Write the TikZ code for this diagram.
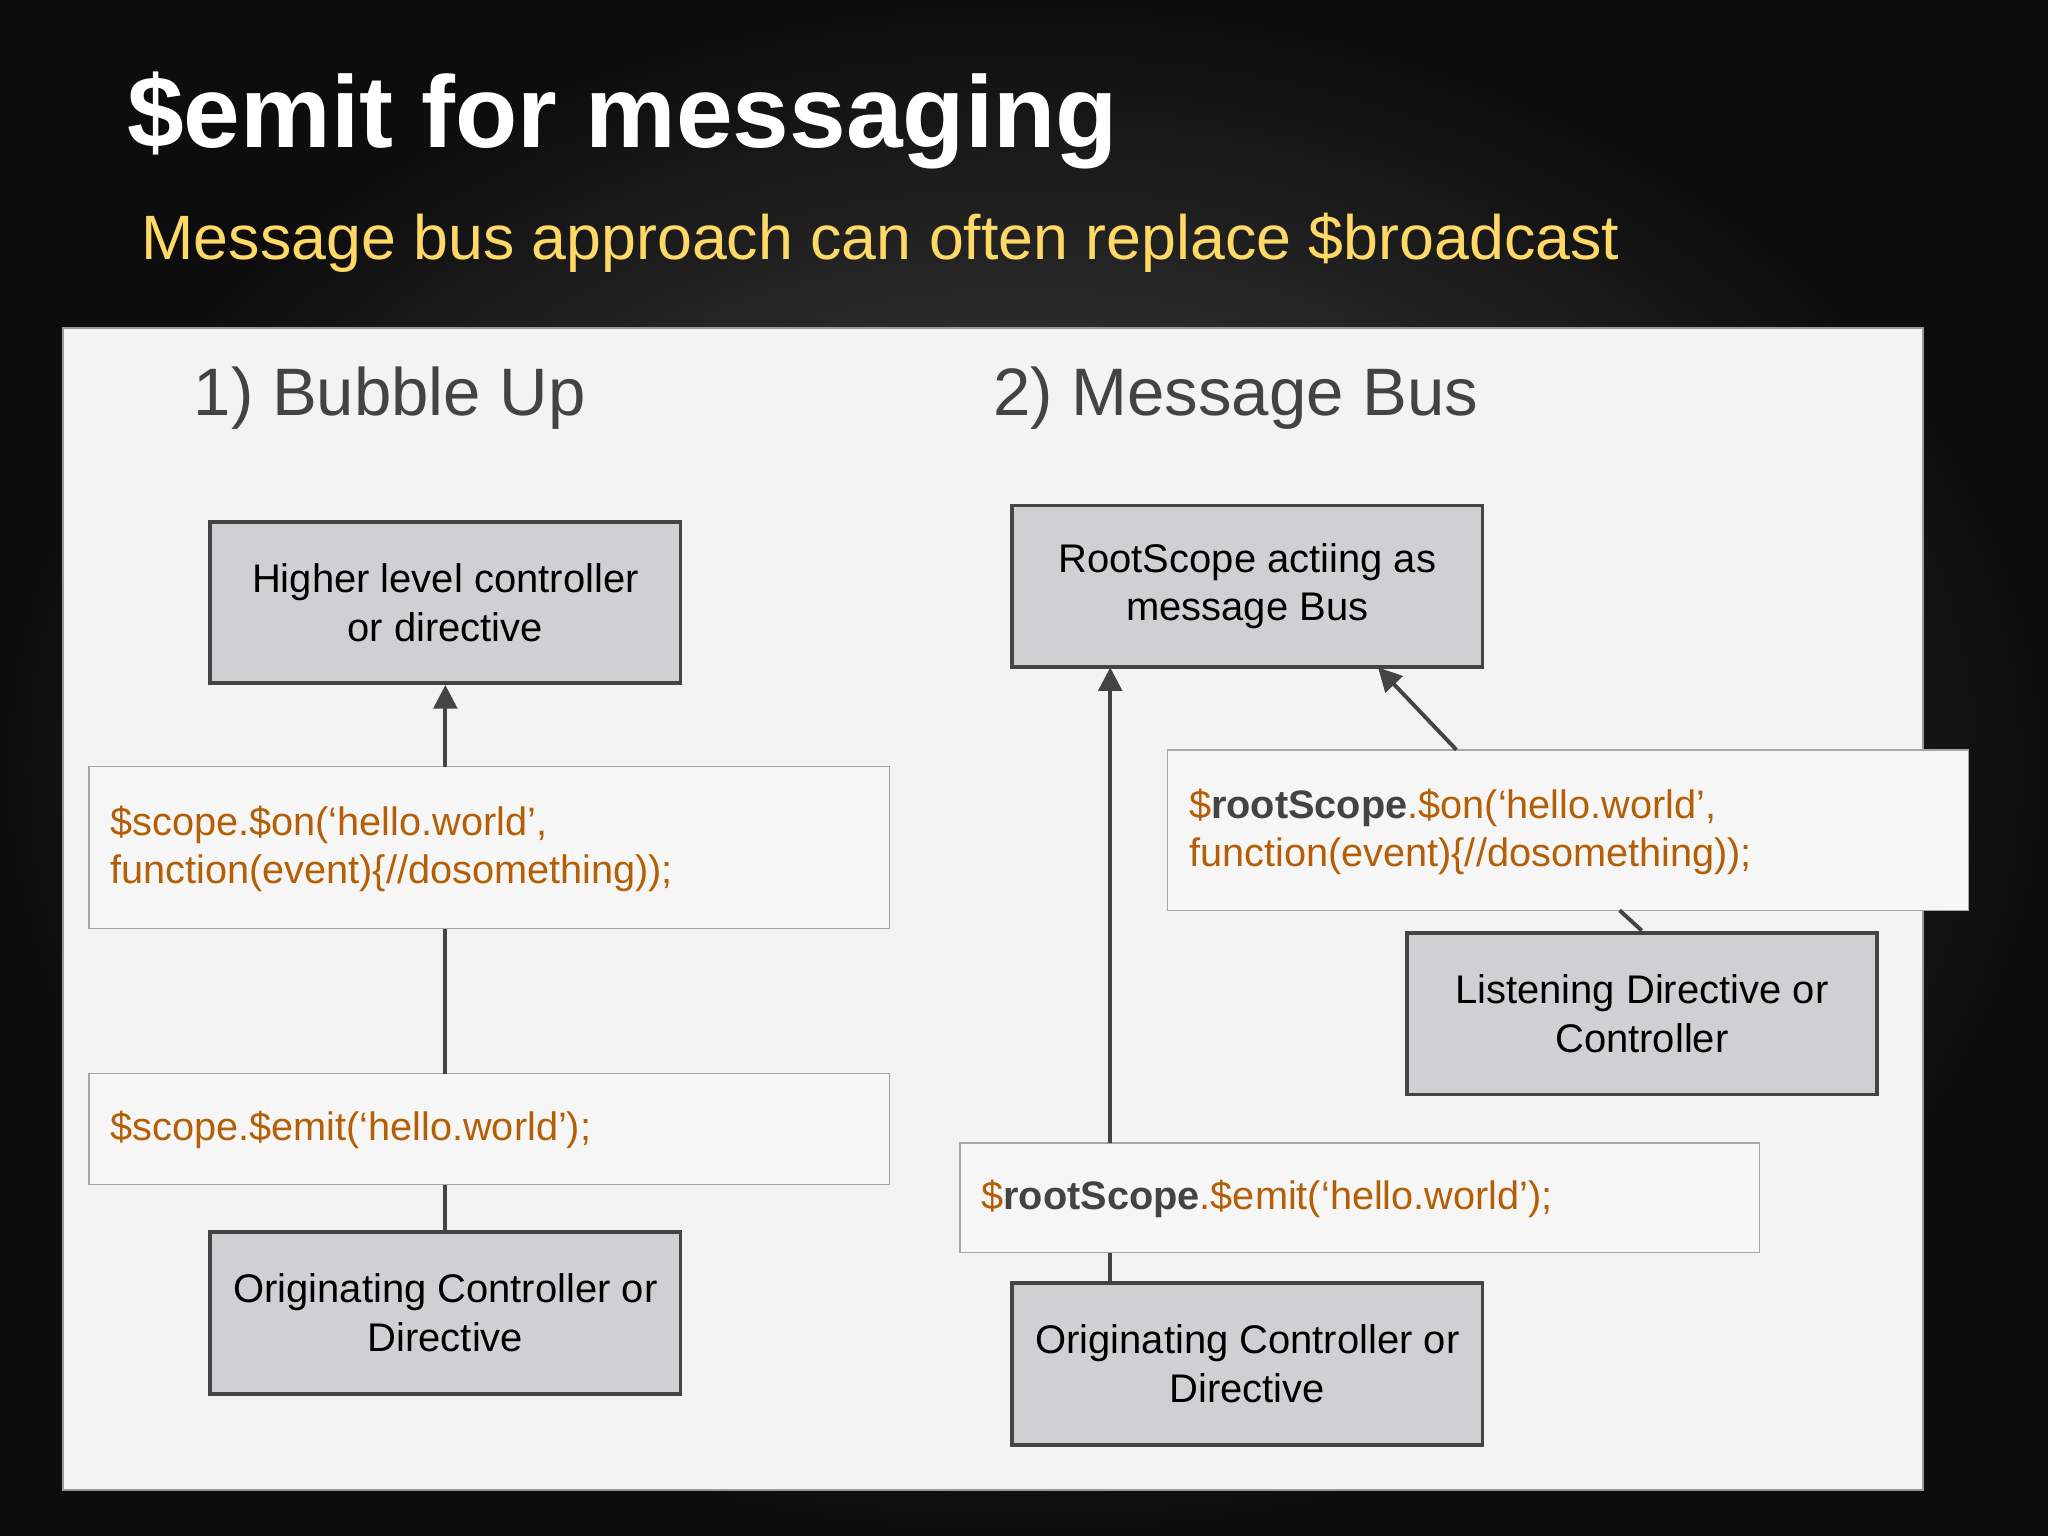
\documentclass[tikz,border=0pt]{standalone}
\usepackage{fontspec}
\setmainfont{Liberation Sans}
\usetikzlibrary{arrows.meta}
\definecolor{boxfill}{HTML}{D0D0D3}
\definecolor{boxline}{HTML}{444444}
\definecolor{codeorange}{HTML}{B45F06}
\definecolor{dark}{HTML}{434343}
\definecolor{subyellow}{HTML}{FFD966}
\definecolor{panel}{HTML}{F3F3F4}
\definecolor{codefill}{HTML}{F6F6F7}
\tikzset{
  gbox/.style={draw=boxline,fill=boxfill,line width=1.5pt,align=center,font=\fontsize{15.3}{18.5}\selectfont,text=black},
  cbox/.style={draw=black!35,fill=codefill,line width=0.6pt},
  ctext/.style={anchor=west,align=left,text=codeorange,font=\fontsize{15.2}{18.5}\selectfont,inner sep=0pt},
  conn/.style={draw=boxline,line width=1.5pt},
  arr/.style={conn,-{Triangle[length=9pt,width=9pt]}}
}
\begin{document}
\begin{tikzpicture}[x=0.5pt,y=-0.5pt]
\shade[inner color=black!68,outer color=black!95] (0,0) rectangle (1568,1176);
\useasboundingbox (0,0) rectangle (1568,1176);
\node[anchor=base west,text=white,font=\fontsize{39}{44}\selectfont\bfseries,inner sep=0pt] (title) at (97,113) {\$emit for messaging};
\node[anchor=base west,text=subyellow,font=\fontsize{24}{28}\selectfont,inner sep=0pt] (sub) at (108,199) {Message bus approach can often replace \$broadcast};
\filldraw[fill=panel,draw=black!40,line width=0.8pt] (48,251) rectangle (1472,1141);
\node[anchor=base west,text=dark,font=\fontsize{25.7}{30}\selectfont,inner sep=0pt] (h1) at (148,318) {1) Bubble Up};
\node[anchor=base west,text=dark,font=\fontsize{25.7}{30}\selectfont,inner sep=0pt] (h2) at (760,318) {2) Message Bus};
% left
\node[gbox,minimum width=180pt,minimum height=61.5pt] (A) at (341,461.5) {Higher level controller\\or directive};
\node[cbox,minimum width=306.5pt,minimum height=62pt] (c1) at (374.5,649) {};
\node[ctext] (c1t) at (84,650) {\$scope.\$on(‘hello.world’,\\function(event)\{//dosomething));};
\node[cbox,minimum width=306.5pt,minimum height=42.5pt] (c2) at (374.5,864.5) {};
\node[ctext] (c2t) at (84,865) {\$scope.\$emit(‘hello.world’);};
\node[gbox,minimum width=180pt,minimum height=62pt] (B) at (341,1005) {Originating Controller or\\Directive};
\coordinate (c1top) at (341,587); \coordinate (c1bot) at (341,711);
\coordinate (c2top) at (341,822); \coordinate (c2bot) at (341,907);
\draw[arr] (c1top) -- (A.south);
\draw[conn] (c2top) -- (c1bot);
\draw[conn] (B.north) -- (c2bot);
% right
\node[gbox,minimum width=180pt,minimum height=62pt] (R) at (955,449) {RootScope actiing as\\message Bus};
\node[cbox,minimum width=306.5pt,minimum height=61.5pt] (c3) at (1200.5,635.5) {};
\node[ctext] (c3t) at (910,637) {\$\textcolor{dark}{\bfseries rootScope}.\$on(‘hello.world’,\\function(event)\{//dosomething));};
\node[gbox,minimum width=180pt,minimum height=62pt] (L) at (1257,776) {Listening Directive or\\Controller};
\node[cbox,minimum width=306pt,minimum height=42pt] (c4) at (1041,917) {};
\node[ctext] (c4t) at (751,918) {\$\textcolor{dark}{\bfseries rootScope}.\$emit(‘hello.world’);};
\node[gbox,minimum width=180pt,minimum height=62pt] (O) at (955,1044) {Originating Controller or\\Directive};
\coordinate (c4top) at (850,875); \coordinate (Rb) at (850,511);
\coordinate (c4bot) at (850,959); \coordinate (Ot) at (850,982);
\coordinate (c3top) at (1115,574); \coordinate (Rb2) at (1055,511);
\coordinate (c3bot) at (1240,697);
\draw[arr] (c4top) -- (Rb);
\draw[conn] (Ot) -- (c4bot);
\draw[arr] (c3top) -- (Rb2);
\draw[conn] (L.north) -- (c3bot);
\end{tikzpicture}
\end{document}
